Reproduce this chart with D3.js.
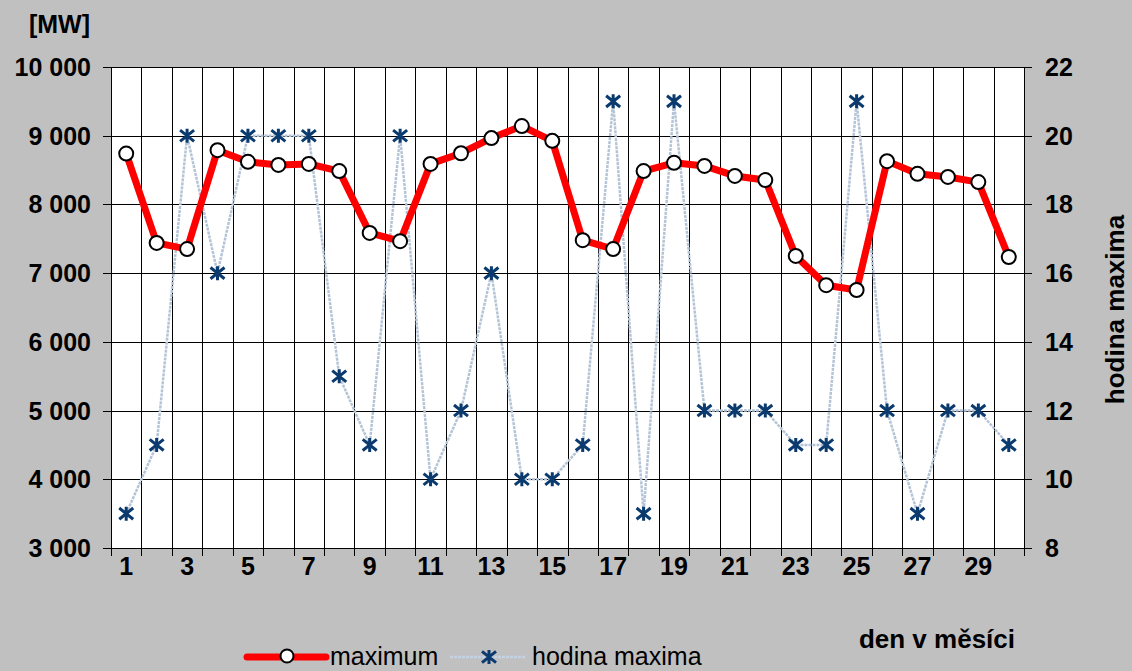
<!DOCTYPE html>
<html>
<head>
<meta charset="utf-8">
<script src="https://cdn.jsdelivr.net/npm/d3@7"></script>
<style>
  body { margin: 0; background: #c0c0c0; }
  svg { display: block; font-family: "Liberation Sans", Arial, sans-serif; }
</style>
</head>
<body>
<div id="chart"></div>
<script>
const days = d3.range(1, 31);
const maximum = [8740, 7440, 7350, 8790, 8620, 8575, 8590, 8485, 7585, 7465,
                 8590, 8745, 8965, 9140, 8925, 7480, 7350, 8485, 8605, 8560,
                 8415, 8355, 7250, 6825, 6755, 8630, 8445, 8400, 8325, 7235];
const hodina = [9, 11, 20, 16, 20, 20, 20, 13, 11, 20,
                10, 12, 16, 10, 10, 11, 21, 9, 21, 12,
                12, 12, 11, 11, 21, 12, 9, 12, 12, 11];
const leftTicks = [3000, 4000, 5000, 6000, 7000, 8000, 9000, 10000];
const rightTicks = [8, 10, 12, 14, 16, 18, 20, 22];
const xLabels = [1, 3, 5, 7, 9, 11, 13, 15, 17, 19, 21, 23, 25, 27, 29];

const width = 1132;
const height = 671;
const plot = {left: 111, right: 1024, top: 67, bottom: 548};
const fs = 25;

const svg = d3.select("#chart")
    .append("svg")
        .attr("width", width)
        .attr("height", height);

const x = d3.scaleBand()
    .domain(days)
    .range([plot.left, plot.right]);

const y = d3.scaleLinear()
    .domain([3000, 10000])
    .range([plot.bottom, plot.top]);

const y2 = d3.scaleLinear()
    .domain([8, 22])
    .range([plot.bottom, plot.top]);

const fmt = d => d3.format(",")(d).replace(",", " ");

// plot area
svg.append("rect")
    .attr("x", plot.left)
    .attr("y", plot.top)
    .attr("width", plot.right - plot.left)
    .attr("height", plot.bottom - plot.top)
    .attr("fill", "white");

// horizontal grid
svg.append("g")
    .selectAll("line")
    .data(leftTicks)
    .join("line")
        .attr("x1", plot.left - 8)
        .attr("x2", plot.right)
        .attr("y1", d => Math.round(y(d)) + 0.5)
        .attr("y2", d => Math.round(y(d)) + 0.5)
        .attr("stroke", "#000")
        .attr("stroke-width", 1);

// vertical grid (band boundaries) + x ticks
const bounds = days.map(d => x(d)).concat([plot.right]);
svg.append("g")
    .selectAll("line")
    .data(bounds)
    .join("line")
        .attr("x1", d => Math.round(d) + 0.5)
        .attr("x2", d => Math.round(d) + 0.5)
        .attr("y1", plot.top)
        .attr("y2", plot.bottom + 8)
        .attr("stroke", "#000")
        .attr("stroke-width", 1);

// right ticks
svg.append("g")
    .selectAll("line")
    .data(rightTicks)
    .join("line")
        .attr("x1", plot.right)
        .attr("x2", plot.right + 8)
        .attr("y1", d => Math.round(y2(d)) + 0.5)
        .attr("y2", d => Math.round(y2(d)) + 0.5)
        .attr("stroke", "#000");

// left axis labels
svg.append("g")
    .selectAll("text")
    .data(leftTicks)
    .join("text")
        .attr("x", 91)
        .attr("y", d => y(d))
        .attr("dy", "0.36em")
        .attr("text-anchor", "end")
        .attr("font-size", fs)
        .attr("font-weight", "bold")
        .text(fmt);

// right axis labels
svg.append("g")
    .selectAll("text")
    .data(rightTicks)
    .join("text")
        .attr("x", 1045)
        .attr("y", d => y2(d))
        .attr("dy", "0.36em")
        .attr("font-size", fs)
        .attr("font-weight", "bold")
        .text(d => d);

// x labels
svg.append("g")
    .selectAll("text")
    .data(xLabels)
    .join("text")
        .attr("x", d => x(d) + x.bandwidth() / 2)
        .attr("y", 575)
        .attr("text-anchor", "middle")
        .attr("font-size", fs)
        .attr("font-weight", "bold")
        .text(d => d);

// titles
svg.append("text")
    .attr("x", 90).attr("y", 33)
    .attr("text-anchor", "end")
    .attr("font-size", fs).attr("font-weight", "bold")
    .text("[MW]");

svg.append("text")
    .attr("transform", `translate(1124, ${(plot.top + plot.bottom) / 2 + 2}) rotate(-90)`)
    .attr("text-anchor", "middle")
    .attr("font-size", 26).attr("font-weight", "bold")
    .text("hodina maxima");

svg.append("text")
    .attr("x", 1015).attr("y", 648)
    .attr("text-anchor", "end")
    .attr("font-size", 26).attr("font-weight", "bold")
    .text("den v měsíci");

const cx = d => x(d) + x.bandwidth() / 2;

// hour series line
const line2 = d3.line()
    .x((d, i) => cx(days[i]))
    .y(d => y2(d));

svg.append("path")
    .datum(hodina)
    .attr("d", line2)
    .attr("fill", "none")
    .attr("stroke", "#b4c4d6")
    .attr("stroke-width", 2.5)
    .attr("stroke-dasharray", "3,1");

// maximum line
const line1 = d3.line()
    .x((d, i) => cx(days[i]))
    .y(d => y(d));

svg.append("path")
    .datum(maximum)
    .attr("d", line1)
    .attr("fill", "none")
    .attr("stroke", "#ff0000")
    .attr("stroke-width", 7)
    .attr("stroke-linejoin", "round");

function star(g, s) {
    g.append("path")
        .attr("d", `M${-s},${-s * 0.8}L${s},${s * 0.8}M${-s},${s * 0.8}L${s},${-s * 0.8}M0,${-s}L0,${s}`)
        .attr("stroke", "#0a3a6e")
        .attr("stroke-width", 3)
        .attr("fill", "none");
}

// hour markers
svg.append("g")
    .selectAll("g")
    .data(hodina)
    .join("g")
        .attr("transform", (d, i) => `translate(${cx(days[i])}, ${y2(d)})`)
        .each(function() { star(d3.select(this), 7); });

// maximum markers
svg.append("g")
    .selectAll("circle")
    .data(maximum)
    .join("circle")
        .attr("cx", (d, i) => cx(days[i]))
        .attr("cy", d => y(d))
        .attr("r", 7)
        .attr("fill", "white")
        .attr("stroke", "black")
        .attr("stroke-width", 2);

// legend
const leg = svg.append("g");
leg.append("line")
    .attr("x1", 247).attr("x2", 326)
    .attr("y1", 657).attr("y2", 657)
    .attr("stroke", "#ff0000").attr("stroke-width", 7)
    .attr("stroke-linecap", "round");
leg.append("circle")
    .attr("cx", 287).attr("cy", 656).attr("r", 6.5)
    .attr("fill", "white").attr("stroke", "black").attr("stroke-width", 2);
leg.append("text")
    .attr("x", 330).attr("y", 665)
    .attr("font-size", fs)
    .text("maximum");
leg.append("line")
    .attr("x1", 450).attr("x2", 526)
    .attr("y1", 657).attr("y2", 657)
    .attr("stroke", "#c4d2e2").attr("stroke-width", 2.5)
    .attr("stroke-dasharray", "3,1");
star(leg.append("g").attr("transform", "translate(489, 657)"), 7);
leg.append("text")
    .attr("x", 532).attr("y", 665)
    .attr("font-size", fs)
    .text("hodina maxima");
</script>
</body>
</html>
